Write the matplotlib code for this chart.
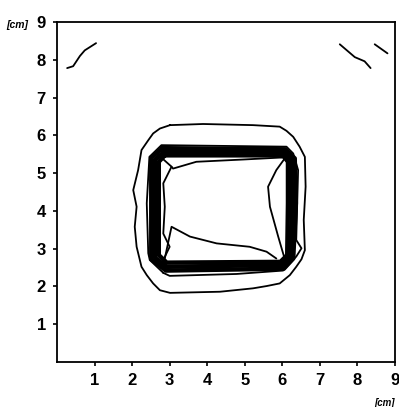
import matplotlib
matplotlib.use("Agg")
import matplotlib.pyplot as plt

tick_values = [1, 2, 3, 4, 5, 6, 7, 8, 9]
tick_labels = ["1", "2", "3", "4", "5", "6", "7", "8", "9"]

outer_x = [3.01, 3.89, 5.22, 5.93, 6.11, 6.29, 6.46, 6.60, 6.62, 6.57, 6.60, 6.51, 6.37, 6.20, 5.93, 5.58, 5.22, 4.34, 3.01, 2.74, 2.56, 2.39, 2.25, 2.12, 2.07, 2.12, 2.03, 2.16, 2.25, 2.43, 2.56, 2.74, 3.01]
outer_y = [6.27, 6.30, 6.27, 6.23, 6.12, 5.96, 5.70, 5.43, 4.64, 3.76, 2.96, 2.72, 2.52, 2.30, 2.08, 2.01, 1.95, 1.86, 1.83, 1.90, 2.08, 2.30, 2.52, 3.05, 3.58, 4.11, 4.55, 5.08, 5.61, 5.87, 6.05, 6.18, 6.27]

edge_x = [2.83, 3.00, 4.78, 6.02, 6.37, 6.51, 6.37, 6.42, 6.29, 6.11, 2.78, 2.46, 2.39, 2.43, 2.47, 2.83]
edge_y = [2.36, 2.28, 2.33, 2.42, 2.79, 3.01, 3.23, 5.08, 5.52, 5.70, 5.74, 5.43, 4.20, 2.88, 2.70, 2.36]

band1_x = [2.81, 6.08, 6.33, 6.36, 6.29, 6.04, 2.90, 2.51, 2.51, 2.81]
band1_y = [5.66, 5.63, 5.39, 4.20, 2.74, 2.47, 2.42, 2.72, 5.41, 5.66]
band2_x = [2.85, 6.05, 6.24, 6.26, 6.21, 6.00, 2.92, 2.61, 2.61, 2.85]
band2_y = [5.56, 5.55, 5.34, 4.20, 2.79, 2.57, 2.52, 2.76, 5.36, 5.56]
band3_x = [2.87, 6.02, 6.15, 6.15, 6.13, 5.95, 2.92, 2.71, 2.71, 2.87]
band3_y = [5.47, 5.47, 5.30, 4.20, 2.83, 2.65, 2.63, 2.83, 5.30, 5.47]

left_inner_x = [2.78, 3.05, 2.83, 2.87, 2.83, 3.00, 2.83]
left_inner_y = [5.41, 5.17, 4.73, 4.11, 3.40, 3.05, 2.70]
top_inner_x = [3.05, 3.09, 3.71, 4.96, 5.93, 6.08, 5.84, 5.62, 5.67, 5.89, 6.06]
top_inner_y = [5.17, 5.12, 5.30, 5.36, 5.41, 5.41, 5.08, 4.64, 4.11, 3.32, 2.74]
low_inner_x = [2.87, 3.05, 3.54, 4.25, 5.13, 5.58, 5.84]
low_inner_y = [2.74, 3.58, 3.32, 3.14, 3.05, 2.92, 2.74]

corner_a_x = [0.27, 0.43, 0.61, 0.74, 1.04]
corner_a_y = [7.78, 7.83, 8.10, 8.25, 8.44]
corner_b_x = [7.53, 7.93, 8.19, 8.35]
corner_b_y = [8.41, 8.07, 7.96, 7.78]
corner_c_x = [8.46, 8.80]
corner_c_y = [8.41, 8.17]

font = ["Liberation Sans", "DejaVu Sans"]
W, H = 399, 407
fig = plt.figure(figsize=(W / 100, H / 100), dpi=100)
ax = fig.add_axes([57 / W, (H - 362) / H, 338 / W, 340 / H])
ax.set_xlim(0, 9)
ax.set_ylim(0, 9)

for x, y in [(outer_x, outer_y), (edge_x, edge_y), (left_inner_x, left_inner_y),
             (top_inner_x, top_inner_y), (low_inner_x, low_inner_y),
             (corner_a_x, corner_a_y), (corner_b_x, corner_b_y), (corner_c_x, corner_c_y)]:
    ax.plot(x, y, color="black", lw=1.3, solid_capstyle="round", solid_joinstyle="round")
for x, y in [(band1_x, band1_y), (band2_x, band2_y), (band3_x, band3_y)]:
    ax.plot(x, y, color="black", lw=3.2, solid_joinstyle="round")

for s in ax.spines.values():
    s.set_linewidth(1.3)
ax.set_xticks(tick_values)
ax.set_yticks(tick_values)
ax.set_xticklabels(tick_labels, family=font, weight="bold", fontsize=12)
ax.set_yticklabels(tick_labels, family=font, weight="bold", fontsize=12)
ax.tick_params(length=3, width=1.2)
ax.tick_params(axis="x", pad=5)
ax.tick_params(axis="y", pad=5)

fig.text(17 / W, 1 - 25 / H, "[cm]", family=font, weight="bold", style="italic", fontsize=7.5, ha="center", va="center")
fig.text(385 / W, 1 - 403 / H, "[cm]", family=font, weight="bold", style="italic", fontsize=7, ha="center", va="center")

fig.savefig("out.png", dpi=100)
